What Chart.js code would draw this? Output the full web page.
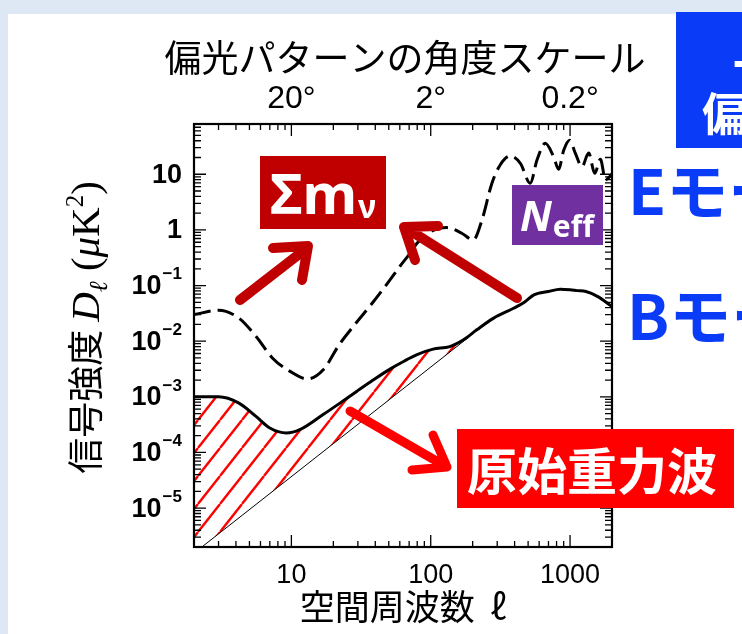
<!DOCTYPE html>
<html lang="ja">
<head>
<meta charset="utf-8">
<title>CMB偏光のパワースペクトル</title>
<script src="https://cdn.jsdelivr.net/npm/chart.js@4.4.1/dist/chart.umd.min.js"></script>
<style>
  html, body { margin: 0; padding: 0; }
  body { width: 742px; height: 634px; overflow: hidden; position: relative; background: #dde8f4; }
  #panel { position: absolute; left: 8px; top: 14px; width: 734px; height: 620px; background: #fff; }
  #chart, #arrows { position: absolute; left: 0; top: 0; }
  .tag { position: absolute; color: #fff; font-weight: 700; white-space: nowrap; box-sizing: border-box; }
  #sum { left: 260px; top: 156px; width: 126px; height: 73px; background: #c00000; padding-left: 10px;
         font-family: "Noto Sans", sans-serif; font-size: 56px; line-height: 73px; }
  #sum .sub { font-size: 32px; position: relative; top: 4px; margin-left: 1px; }
  #neff { left: 512px; top: 185px; width: 91px; height: 60px; background: #7030a0; padding-left: 8px;
          font-family: "Noto Sans", sans-serif; font-size: 42px; line-height: 60px; }
  #neff i { font-style: italic; }
  #neff .sub { font-size: 30px; position: relative; top: 6px; margin-left: 1px; }
  #gw { left: 457px; top: 429px; width: 277px; height: 79px; background: #ff0000; padding-left: 10px;
        font-family: "Noto Sans CJK JP", sans-serif; font-size: 50px; line-height: 79px; }
  #bluebox { position: absolute; left: 676px; top: 12px; width: 90px; height: 136px; background: #0a3cf8; }
  .bl { position: absolute; color: #fff; font-weight: 700; font-family: "Noto Sans CJK JP", sans-serif; font-size: 45px; line-height: 45px; white-space: nowrap; }
  .mode { position: absolute; color: #0a3cf8; font-weight: 700; font-family: "Noto Sans CJK JP", sans-serif; font-size: 62px; line-height: 62px; white-space: nowrap; }
</style>
</head>
<body>
<div id="panel"></div>
<canvas id="chart" width="742" height="634"></canvas>
<svg id="arrows" width="742" height="634">
  <g fill="none" stroke-linecap="round" stroke-linejoin="round">
    <path d="M240 300 L307 248 M273 248 L308 246 L302 280" stroke="#c00000" stroke-width="10"/>
    <path d="M517 298 L406 228 M438 226 L404 227 L415 260" stroke="#c00000" stroke-width="10"/>
    <path d="M350 411 L445 466 M433 435 L447 467 L412 470" stroke="#ff0000" stroke-width="9"/>
  </g>
</svg>
<div class="tag" id="sum">Σm<span class="sub">ν</span></div>
<div class="tag" id="neff"><i>N</i><span class="sub">eff</span></div>
<div class="tag" id="gw">原始重力波</div>
<div id="bluebox"></div>
<div class="bl" style="left:733px; top:40px;">一</div>
<div class="bl" style="left:702px; top:89px;">偏光</div>
<div class="mode" style="left:628px; top:157px;">Eモード</div>
<div class="mode" style="left:627px; top:282px;">Bモード</div>
<script>
// E-mode (dashed) and B-mode (solid) D_ell in uK^2
var ellE = [2, 3, 4.2, 5.6, 7.3, 9.7, 13, 17, 22, 29, 38, 51, 60, 71, 80, 100, 130, 167, 202, 233,
            275, 315, 373, 440, 518, 579, 664, 762, 828, 900, 994, 1090, 1218, 1360, 1503, 1652, 1795, 2000];
var eeMode = [0.030, 0.036, 0.026, 0.012, 0.005, 0.0029, 0.0021, 0.0031, 0.0086, 0.021, 0.048, 0.126, 0.22, 0.38, 0.58, 0.93, 1.1, 0.87, 0.66, 1.5,
              6.9, 14.7, 21.3, 15.7, 6.9, 18, 36, 20.7, 12.3, 27, 41, 24, 13.7, 24, 10.4, 18.6, 7.9, 10];

var ellB = [2, 3, 4.2, 5.6, 7, 9.2, 11.5, 16.9, 22.3, 29.4, 38.6, 51, 67, 79, 104, 137, 172, 214,
            283, 393, 470, 550, 700, 850, 1000, 1125, 1300, 1570, 2000];
var bbMode = [1.0e-3, 1.0e-3, 7.7e-4, 4.4e-4, 2.75e-4, 2.24e-4, 2.57e-4, 4.8e-4, 7.7e-4, 1.25e-3, 2.0e-3, 3.15e-3, 4.6e-3, 5.7e-3, 7.2e-3, 8.0e-3, 0.0106, 0.016,
              0.026, 0.039, 0.05, 0.068, 0.078, 0.086, 0.084, 0.081, 0.078, 0.064, 0.042];

// thin line (lensing B-mode), the hatched band sits between it and the B-mode curve
var ellLens = [2, 185];
var lensLine = [1.55e-6, 0.0115];

var xRange = [2, 2000];
var yRange = [2e-6, 80];
var xTickVals = [10, 100, 1000];
var xTickLabels = ['10', '100', '1000'];
var topTickLabels = ['20°', '2°', '0.2°'];
var yTickVals = [1e-5, 1e-4, 1e-3, 1e-2, 1e-1, 1, 10];
var yTickBase = ['10', '10', '10', '10', '10', '1', '10'];
var yTickExp = ['−5', '−4', '−3', '−2', '−1', '', ''];
var topTitle = '偏光パターンの角度スケール';

function pairs(xs, ys) {
  return xs.map(function(x, i) { return {x: x, y: ys[i]}; });
}
// 1..9 x 10^n tick positions inside a range
function logTicks(lo, hi) {
  var out = [];
  for (var e = Math.floor(Math.log10(lo)); e <= Math.ceil(Math.log10(hi)); e++) {
    for (var k = 1; k < 10; k++) {
      var v = k * Math.pow(10, e);
      if (v >= lo * 0.999 && v <= hi * 1.001) out.push(v);
    }
  }
  return out;
}
function labelFor(v, vals, labels) {
  for (var i = 0; i < vals.length; i++) {
    if (Math.abs(Math.log10(v / vals[i])) < 1e-6) return labels[i];
  }
  return '';
}
function isDecade(v) {
  var l = Math.log10(v);
  return Math.abs(l - Math.round(l)) < 1e-6;
}

var ctx = document.getElementById('chart').getContext('2d');

// red diagonal hatching
var tile = document.createElement('canvas');
tile.width = 22; tile.height = 28;
var tg = tile.getContext('2d');
tg.strokeStyle = '#ff0000';
tg.lineWidth = 2.4;
[-22, 0, 22].forEach(function(o) {
  tg.beginPath(); tg.moveTo(o, 28); tg.lineTo(o + 22, 0); tg.stroke();
});
var hatch = ctx.createPattern(tile, 'repeat');

// inward tick marks on all four sides + frame
var frameTicks = {
  id: 'frameTicks',
  afterDatasetsDraw: function(chart) {
    var c = chart.ctx, a = chart.chartArea, xs = chart.scales.x, ys = chart.scales.y;
    c.save();
    c.strokeStyle = '#000';
    c.lineWidth = 1.3;
    c.beginPath();
    xs.ticks.forEach(function(t) {
      var px = xs.getPixelForValue(t.value);
      var len = isDecade(t.value) ? 12 : 6;
      c.moveTo(px, a.bottom); c.lineTo(px, a.bottom - len);
      c.moveTo(px, a.top); c.lineTo(px, a.top + len);
    });
    ys.ticks.forEach(function(t) {
      var py = ys.getPixelForValue(t.value);
      var len = isDecade(t.value) ? 12 : 7;
      c.moveTo(a.left, py); c.lineTo(a.left + len, py);
      c.moveTo(a.right, py); c.lineTo(a.right - len, py);
    });
    c.stroke();
    c.lineWidth = 2.2;
    c.strokeRect(a.left, a.top, a.right - a.left, a.bottom - a.top);
    c.restore();
  }
};

// y tick labels "10" with a real superscript exponent
var yLabels = {
  id: 'yLabels',
  afterDraw: function(chart) {
    var c = chart.ctx, a = chart.chartArea, ys = chart.scales.y;
    var right = a.left - 12;
    c.save();
    c.fillStyle = '#000';
    c.textAlign = 'right';
    c.textBaseline = 'middle';
    yTickVals.forEach(function(v, i) {
      var py = ys.getPixelForValue(v);
      var ew = 0;
      if (yTickExp[i]) {
        c.font = 'bold 17px "Liberation Sans", Arial, sans-serif';
        ew = c.measureText(yTickExp[i]).width + 1;
        c.fillText(yTickExp[i], right, py - 11);
      }
      c.font = 'bold 27px "Liberation Sans", Arial, sans-serif';
      c.fillText(yTickBase[i], right - ew, py + 1);
    });
    c.restore();
  }
};

// titles: the top one is wider than the plot, the y one mixes fonts
var titles = {
  id: 'titles',
  afterDraw: function(chart) {
    var c = chart.ctx, a = chart.chartArea;
    c.save();
    c.fillStyle = '#000';
    c.font = '37px "Noto Sans CJK JP", sans-serif';
    c.textAlign = 'center';
    c.textBaseline = 'middle';
    c.fillText(topTitle, (a.left + a.right) / 2 + 2, 58);

    var parts = [
      {t: '信号強度 ', f: '36px "Noto Sans CJK JP"', dy: 0},
      {t: 'D', f: 'italic 41px "Liberation Serif"', dy: 0},
      {t: 'ℓ', f: 'italic 26px "Liberation Serif"', dy: 8},
      {t: ' (', f: '41px "Liberation Serif"', dy: 0},
      {t: 'μ', f: 'italic 41px "Liberation Serif"', dy: 0},
      {t: 'K', f: '41px "Liberation Serif"', dy: 0},
      {t: '2', f: '25px "Liberation Serif"', dy: -16},
      {t: ')', f: '41px "Liberation Serif"', dy: 0}
    ];
    c.textAlign = 'left';
    c.textBaseline = 'alphabetic';
    var total = 0;
    parts.forEach(function(p) { c.font = p.f; p.w = c.measureText(p.t).width; total += p.w; });
    c.translate(86, (a.top + a.bottom) / 2 - 8);
    c.rotate(-Math.PI / 2);
    var x = -total / 2;
    parts.forEach(function(p) { c.font = p.f; c.fillText(p.t, x, 13 + p.dy); x += p.w; });
    c.restore();
  }
};

var chart = new Chart(ctx, {
  type: 'line',
  data: {
    datasets: [
      {
        label: 'Eモード',
        data: pairs(ellE, eeMode),
        borderColor: '#000',
        borderWidth: 3,
        borderDash: [17, 7],
        pointRadius: 0,
        cubicInterpolationMode: 'monotone',
        fill: false
      },
      {
        label: 'Bモード',
        data: pairs(ellB, bbMode),
        borderColor: '#000',
        borderWidth: 3,
        pointRadius: 0,
        cubicInterpolationMode: 'monotone',
        fill: false
      },
      {
        label: 'レンズ効果',
        data: pairs(ellLens, lensLine),
        borderColor: '#000',
        borderWidth: 1,
        pointRadius: 0,
        fill: 1,
        backgroundColor: hatch
      }
    ]
  },
  options: {
    responsive: false,
    animation: false,
    devicePixelRatio: 1,
    layout: { padding: { left: 0, right: 130, top: 0, bottom: 0 } },
    plugins: { legend: { display: false }, tooltip: { enabled: false } },
    scales: {
      x: {
        type: 'logarithmic',
        position: 'bottom',
        min: xRange[0], max: xRange[1],
        grid: { display: false, drawTicks: false },
        border: { display: false },
        afterBuildTicks: function(s) { s.ticks = logTicks(xRange[0], xRange[1]).map(function(v) { return {value: v}; }); },
        ticks: {
          autoSkip: false, maxRotation: 0, padding: 12, color: '#000',
          font: { family: "'Liberation Sans', Arial, sans-serif", size: 27 },
          callback: function(v) { return labelFor(v, xTickVals, xTickLabels); }
        },
        title: {
          display: true, text: '空間周波数  ℓ', color: '#000',
          font: { family: "'Noto Sans CJK JP', sans-serif", size: 35 },
          padding: { top: 0, bottom: 6 }
        },
        afterFit: function(s) { s.height = 87; }
      },
      xTop: {
        type: 'logarithmic',
        position: 'top',
        min: xRange[0], max: xRange[1],
        grid: { display: false, drawTicks: false },
        border: { display: false },
        afterBuildTicks: function(s) { s.ticks = xTickVals.map(function(v) { return {value: v}; }); },
        ticks: {
          autoSkip: false, maxRotation: 0, padding: 6, color: '#000',
          font: { family: "'Liberation Sans Narrow', 'Liberation Sans', sans-serif", size: 32 },
          callback: function(v) { return labelFor(v, xTickVals, topTickLabels); }
        },
        title: { display: false },
        afterFit: function(s) { s.height = 124; }
      },
      y: {
        type: 'logarithmic',
        position: 'left',
        min: yRange[0], max: yRange[1],
        grid: { display: false, drawTicks: false },
        border: { display: false },
        afterBuildTicks: function(s) { s.ticks = logTicks(yRange[0], yRange[1]).map(function(v) { return {value: v}; }); },
        ticks: { display: false },
        title: { display: false },
        afterFit: function(s) { s.width = 194; }
      }
    }
  },
  plugins: [frameTicks, yLabels, titles]
});
</script>
</body>
</html>
